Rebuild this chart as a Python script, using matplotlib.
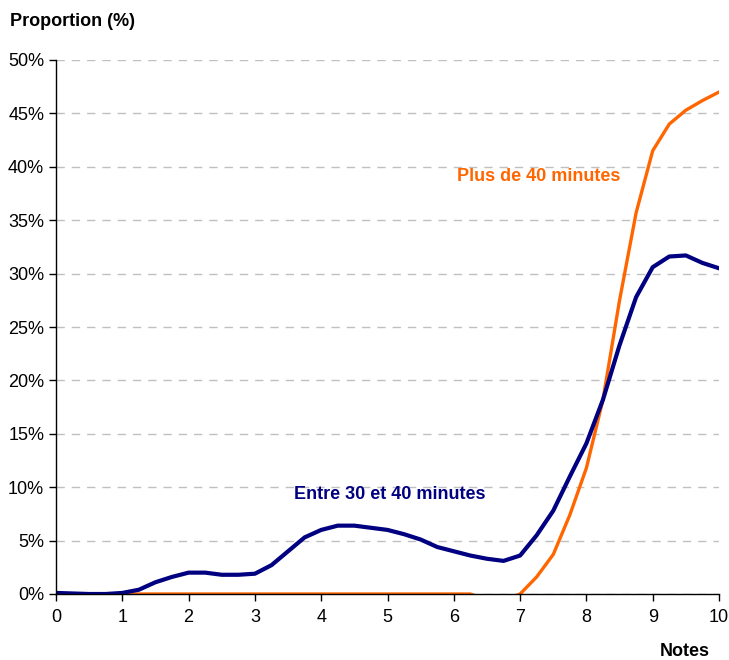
import matplotlib
matplotlib.use("Agg")
import matplotlib.pyplot as plt
from matplotlib import font_manager as fm

notes = [i * 0.25 for i in range(41)]
entre_30_40 = [0.1, 0.05, 0.0, 0.0, 0.1, 0.4, 1.1, 1.6, 2.0, 2.0, 1.8, 1.8, 1.9, 2.7, 4.0, 5.3,
               6.0, 6.4, 6.4, 6.2, 6.0, 5.6, 5.1, 4.4, 4.0, 3.6, 3.3, 3.1, 3.6, 5.5, 7.8, 11.0,
               14.1, 18.2, 23.3, 27.8, 30.6, 31.6, 31.7, 31.0, 30.5]
plus_40 = [0.0] * 25 + [0.0, -0.6, -0.6, 0.0, 1.6, 3.7, 7.4,
                        11.8, 18.2, 27.5, 35.7, 41.5, 44.0, 45.3, 46.2, 47.0]
yticks = [0, 5, 10, 15, 20, 25, 30, 35, 40, 45, 50]
xticks = list(range(11))

names = {f.name for f in fm.fontManager.ttflist}
fam = 'Liberation Sans Narrow' if 'Liberation Sans Narrow' in names else 'Liberation Sans'
plt.rcParams['font.family'] = [fam, 'DejaVu Sans']

fig = plt.figure(figsize=(7.29, 6.6), dpi=100)
ax = fig.add_axes([56/729, 1-594/660, 663/729, 534/660])

ax.plot(notes, entre_30_40, color='#000080', lw=3, solid_joinstyle='round', zorder=3)
ax.plot(notes, plus_40, color='#FF6600', lw=2.4, solid_joinstyle='round', zorder=2)

ax.set_xlim(0, 10)
ax.set_ylim(0, 50)
ax.set_xticks(xticks)
ax.set_xticklabels([str(t) for t in xticks])
ax.set_yticks(yticks)
ax.set_yticklabels([f"{t}%" for t in yticks])
ax.grid(axis='y', color='#C0C0C0', linestyle=(0, (6, 5)), lw=1)
ax.set_axisbelow(True)
for s in ['top', 'right']:
    ax.spines[s].set_visible(False)
for s in ['left', 'bottom']:
    ax.spines[s].set_color('black')
    ax.spines[s].set_linewidth(1)
    ax.spines[s].set_zorder(4)
ax.tick_params(axis='both', direction='out', length=5, width=1, labelsize=13, colors='black')
ax.tick_params(axis='x', pad=6)

ax.text(6.05, 39.1, "Plus de 40 minutes", color='#FF6600', fontsize=13, fontweight='bold',
        va='center', ha='left')
ax.text(3.59, 9.3, "Entre 30 et 40 minutes", color='#000080', fontsize=13, fontweight='bold',
        va='center', ha='left')
fig.text(10/729, 1-22/660, "Proportion (%)", fontsize=13, fontweight='bold', va='center', ha='left')
fig.text(710/729, 1-652/660, "Notes", fontsize=13, fontweight='bold', va='center', ha='right')

fig.savefig("out.png", dpi=100)
